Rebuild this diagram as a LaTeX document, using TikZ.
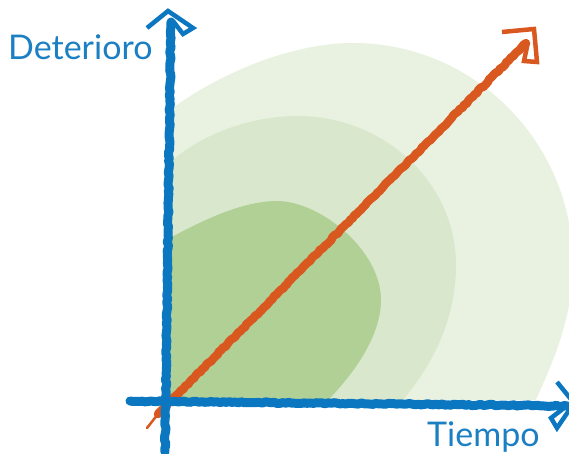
\documentclass[tikz,border=0pt]{standalone}
\usepackage{fontspec}
\setmainfont{Lato}
\usetikzlibrary{decorations.pathmorphing}
\definecolor{axBlue}{HTML}{0A77C0}
\definecolor{lbBlue}{HTML}{1B7FC3}
\definecolor{trOrange}{HTML}{D9581F}
\definecolor{gLight}{HTML}{E9F2E1}
\definecolor{gMid}{HTML}{D9E8CC}
\definecolor{gDark}{HTML}{B1D096}
\tikzset{
  brush/.style={line width=#1, line cap=round, line join=round, decorate,
    decoration={random steps, segment length=3pt, amplitude=0.7pt}},
  axisline/.style={brush=9pt, color=axBlue},
  trendline/.style={brush=8.5pt, color=trOrange},
  tiphead/.style={line width=4.5pt, line join=miter, line cap=butt},
  axlabel/.style={font=\fontsize{34}{36}\selectfont, text=lbBlue, inner sep=0pt},
}

\begin{document}
\begin{tikzpicture}[x=1pt, y=-1pt]
  \useasboundingbox (0,0) rectangle (569,454);
  \clip (0,0) rectangle (569,454);
  % zones
  \begin{scope}
    \clip (168,0) rectangle (600,399);
    \fill[gLight] (166,113) .. controls (215,75) and (290,43) .. (353,43)
      .. controls (474,43) and (573,142) .. (573,265)
      .. controls (573,320) and (550,370) .. (530,412)
      -- (160,412) -- cycle;
    \fill[gMid] (166,166) .. controls (198,135) and (250,116) .. (297,116)
      .. controls (385,116) and (456,183) .. (456,265)
      .. controls (456,310) and (440,360) .. (394,410)
      -- (160,410) -- cycle;
    \fill[gDark] (166,240) .. controls (198,223) and (240,201) .. (277,201)
      .. controls (320,201) and (381,250) .. (381,300)
      .. controls (381,335) and (355,375) .. (318,410)
      -- (160,410) -- cycle;
  \end{scope}
  % points
  \coordinate (ybot) at (165,452);
  \coordinate (ytop) at (171,22);
  \coordinate (xleft) at (130,401);
  \coordinate (xright) at (572,406);
  \coordinate (ttail) at (147,428);
  \coordinate (tbeg) at (158,414);
  \coordinate (tend) at (526,43);
  % trend
  \draw[trOrange, line width=2.5pt, line cap=round] (ttail) -- (tbeg);
  \draw[trendline] (tbeg) -- (tend);
  \draw[trOrange, tiphead] (502,32) -- (534,29) -- (537,62) -- (524,61) -- (528,42);
  % axes
  \draw[axisline] (ybot) -- (ytop);
  \draw[axisline] (xleft) -- (xright);
  \draw[axBlue, tiphead] (147,28) -- (168,11) -- (193,28) -- (183,34) -- (173,21);
  \draw[axBlue, tiphead] (557,382) -- (574,403) -- (557,428) -- (551,418) -- (564,408);
  % labels
  \node[axlabel, anchor=base west] (ylab) at (8,60) {Deterioro};
  \node[axlabel, anchor=base west] (xlab) at (427,446) {Tiempo};
\end{tikzpicture}
\end{document}
